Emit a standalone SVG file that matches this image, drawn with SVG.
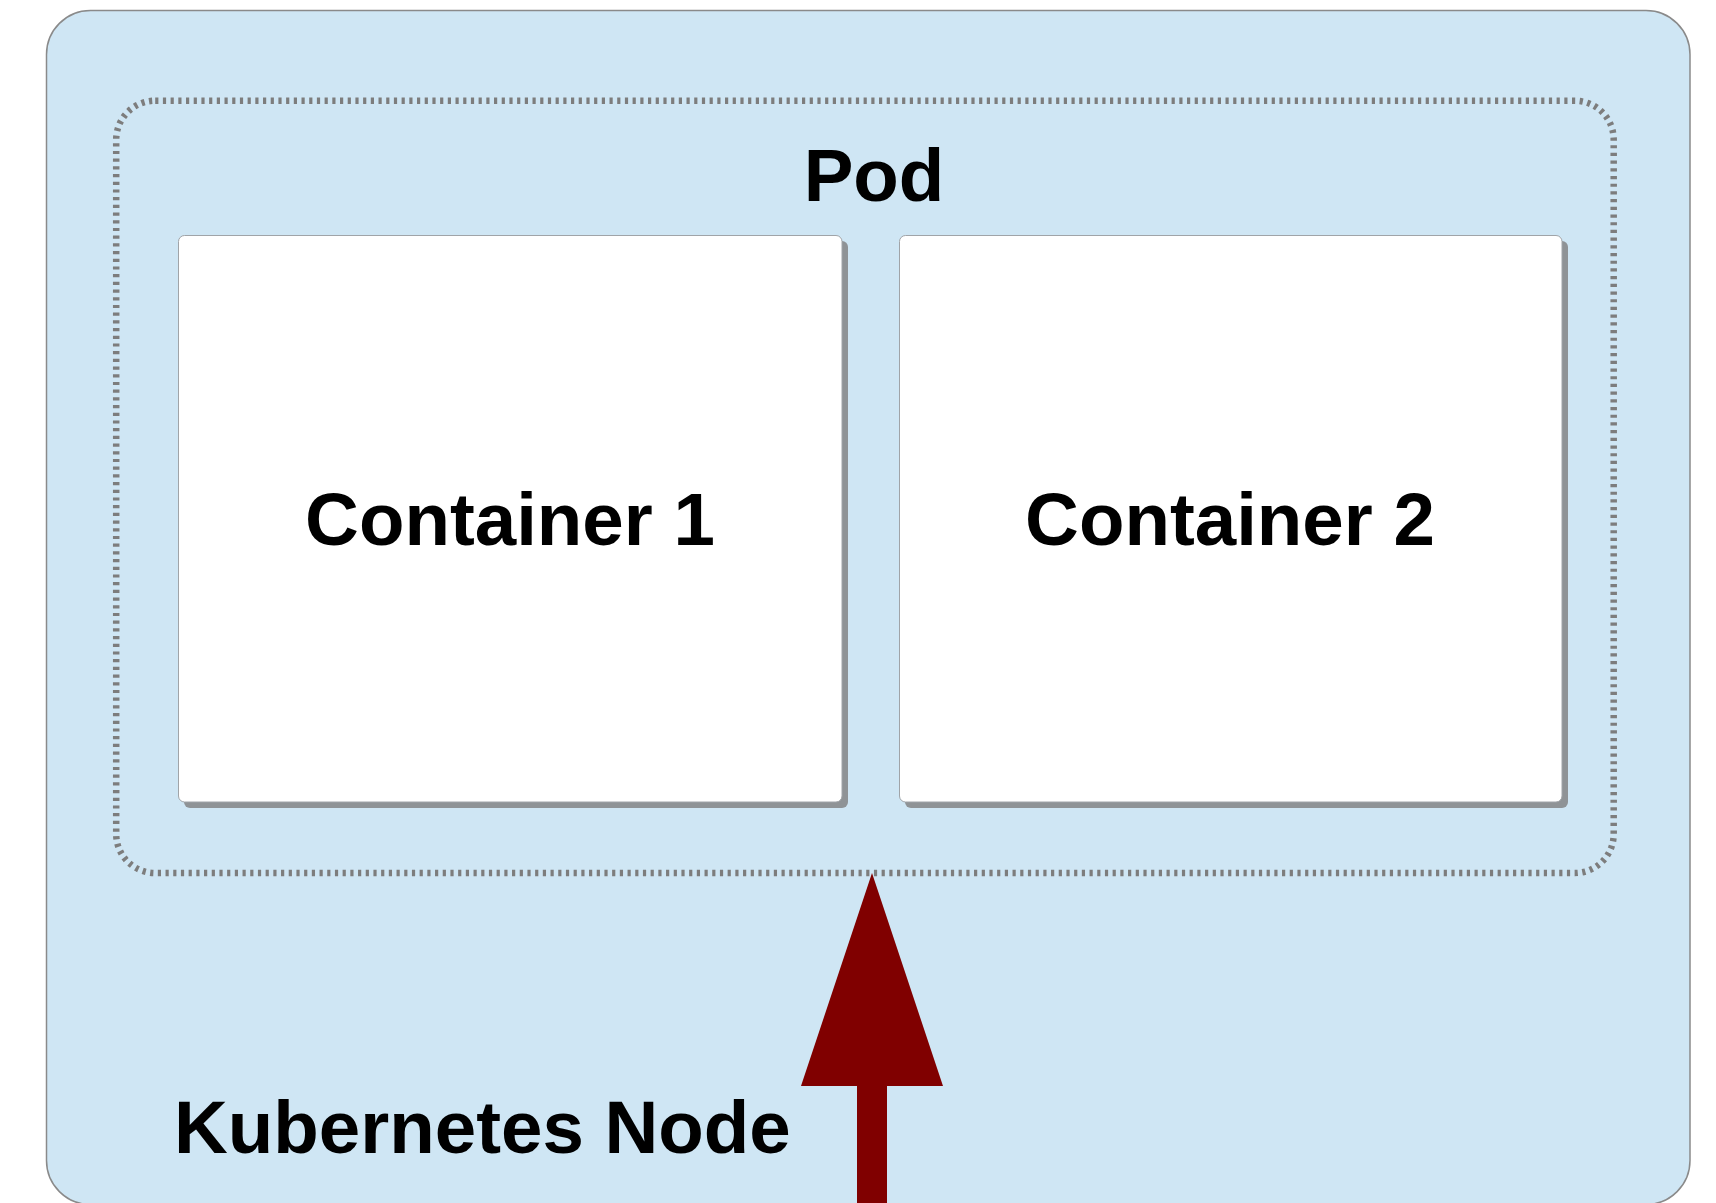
<svg xmlns="http://www.w3.org/2000/svg" width="1716" height="1203" viewBox="0 0 1716 1203">
  <style>
    .lbl { font-family: "Liberation Sans", Arial, sans-serif; font-weight: bold; fill: #000000; font-size: 74.5px; }
    .container { fill: #ffffff; stroke: #a0a4a8; stroke-width: 1; }
    .shadow { fill: #8f9396; }
  </style>
  <rect x="0" y="0" width="1716" height="1203" fill="#ffffff"/>
  <g id="kubernetes-node">
    <rect x="46.5" y="10.5" width="1643.5" height="1194" rx="44" ry="44" fill="#cfe6f4" stroke="#8a8a8a" stroke-width="1.5"/>
    <text class="lbl" x="174" y="1153">Kubernetes Node</text>
  </g>
  <g id="pod">
    <rect x="116.2" y="100.7" width="1497.5" height="772.3" rx="39" ry="39" fill="none" stroke="#7d7d7d" stroke-width="6.5" stroke-dasharray="3.2 4.5"/>
    <text class="lbl" x="874" y="201" text-anchor="middle">Pod</text>
  </g>
  <g id="container-1">
    <rect class="shadow" x="184" y="241" width="664" height="567" rx="6" ry="6"/>
    <rect class="container" x="178.5" y="235.5" width="663.5" height="566.5" rx="6" ry="6"/>
    <text class="lbl" x="510" y="545" text-anchor="middle">Container 1</text>
  </g>
  <g id="container-2">
    <rect class="shadow" x="905" y="241" width="663" height="567" rx="6" ry="6"/>
    <rect class="container" x="899.5" y="235.5" width="662.5" height="566.5" rx="6" ry="6"/>
    <text class="lbl" x="1230" y="545" text-anchor="middle">Container 2</text>
  </g>
  <g id="connectors">
    <polygon points="872,873 943,1086 887,1086 887,1210 857,1210 857,1086 801,1086" fill="#800000"/>
  </g>
</svg>
